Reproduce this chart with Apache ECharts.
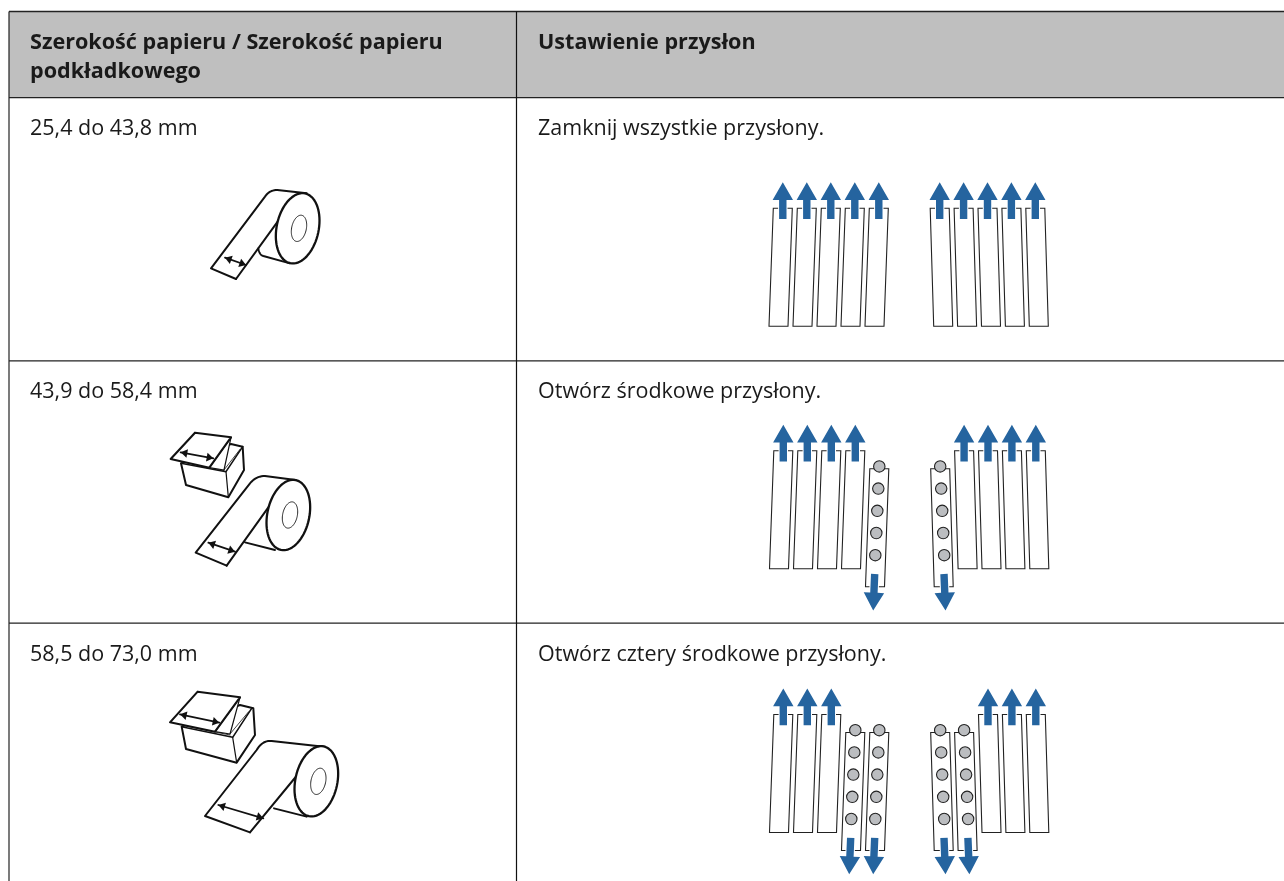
<!DOCTYPE html>
<html><head><meta charset="utf-8">
<style>html,body{margin:0;padding:0;background:#fff}#c{width:1284px;height:881px}</style>
<script src="https://cdn.jsdelivr.net/npm/echarts@6/dist/echarts.min.js"></script>
</head><body><div id="c"></div>
<script>
// ---------- content ----------
const headerLeft = ['Szerokość papieru / Szerokość papieru', 'podkładkowego'];
const headerRight = ['Ustawienie przysłon'];
const paperWidths = ['25,4 do 43,8 mm', '43,9 do 58,4 mm', '58,5 do 73,0 mm'];
const settings = ['Zamknij wszystkie przysłony.', 'Otwórz środkowe przysłony.', 'Otwórz cztery środkowe przysłony.'];
const openPerSide = [0, 1, 2];
const shuttersPerSide = [5, 5, 5];
const holesPerShutter = [5, 5, 5];

// ---------- style / layout ----------
const FONT = '"Open Sans", "Noto Sans", sans-serif';
const INK = '#111', BLUE = '#25649f', HOLE = '#bbbdc0', HEAD = '#bfbfbf';
const X0 = 9, XM = 516.5, W = 1284, H = 881;
const rowLines = [11.5, 97.6, 360.8, 623.2, 881];
const rowDy = [0, 242.4, 506.2];
const BODY_SIZE = 21.5, HEAD_SIZE = 21.6;

// roll + box drawings in 1/3-pixel units relative to an origin
const rollDrawings = [
  {o:[200,180], bl:[33,265], br:[108,297], edge:[195,50], ctrl:[208,30], crest:[232,30], topEnd:[320,40],
   rightEnd:[240,115], under:[[175,205],[178,225],[190,228],[270,250]], c:[293,145], in:[297,145],
   ar:[[75,233],[138,255]]},
  {o:[150,420], bl:[137,398], br:[230,437], edge:[300,190], ctrl:[318,168], crest:[345,168], topEnd:[437,180],
   rightEnd:[355,262], under:[[285,367],[375,390]], c:[415,285], in:[420,285],
   ar:[[175,368],[255,395]],
   box:{body:[[93,130],[108,195],[235,232],[282,150],[278,80],[243,72]], front:[[93,130],[228,155],[278,80]],
        vert:[[228,155],[235,232]], sheet:[[62,117],[135,38],[243,52],[178,143]], fold:[[243,52],[222,150],[178,143]],
        thin:[[[222,150],[270,88]],[[100,125],[222,152]]], ar:[[92,97],[190,115]]}},
  {o:[150,680], bl:[165,408], br:[300,457], edge:[320,210], ctrl:[338,180], crest:[365,183], topEnd:[522,200],
   rightEnd:[442,285], under:[[372,385],[470,410]], c:[499,304], in:[505,304],
   ar:[[205,375],[340,415]],
   box:{body:[[95,140],[108,207],[260,248],[315,165],[310,85],[270,75]], front:[[95,140],[248,172],[305,85]],
        vert:[[248,172],[260,248]], sheet:[[60,127],[143,35],[270,52],[195,155]], fold:[[270,52],[240,162],[195,155]],
        thin:[[[240,162],[296,95]],[[103,137],[240,165]]], ar:[[90,103],[208,128]]}}
];

// ---------- helpers ----------
const line = (api, pts, o={}) => ({type:'polyline', shape:{points:pts.map(p=>api.coord(p))},
  style:{fill:null, stroke:o.stroke||INK, lineWidth:o.lw||1.5, lineJoin:'round', lineCap:o.cap||'round'}});
const poly = (api, pts, o={}) => ({type:'polygon', shape:{points:pts.map(p=>api.coord(p))},
  style:{fill:o.fill||'#fff', stroke:o.stroke===undefined?INK:o.stroke, lineWidth:o.lw===undefined?1.5:o.lw, lineJoin:o.join||'round'}});
function text(api, s, x, y, size, bold){
  const p = api.coord([x,y]);
  return {type:'text', style:{text:s, x:p[0], y:p[1], fill:'#1a1a1a', verticalAlign:'middle', align:'left',
    font:(bold?'bold ':'')+size+'px '+FONT}};
}
function ellipse(c, rx, ry, deg){
  const a=deg*Math.PI/180, pts=[];
  for(let k=0;k<72;k++){const t=k/72*2*Math.PI;
    pts.push([c[0]+ry*Math.sin(t)*Math.sin(a)+rx*Math.cos(t)*Math.cos(a), c[1]-ry*Math.sin(t)*Math.cos(a)+rx*Math.cos(t)*Math.sin(a)]);}
  return pts;
}
function quad(a,b,c){const r=[];for(let k=0;k<=10;k++){const t=k/10;
  r.push([(1-t)*(1-t)*a[0]+2*t*(1-t)*b[0]+t*t*c[0],(1-t)*(1-t)*a[1]+2*t*(1-t)*b[1]+t*t*c[1]]);}return r;}
function dblArrow(api, tr, a, b){
  const dx=b[0]-a[0],dy=b[1]-a[1],L=Math.hypot(dx,dy),ux=dx/L,uy=dy/L,nx=-uy,ny=ux,hl=20,hw=13;
  const head=(p,s)=>poly(api,tr([p,[p[0]+s*ux*hl+nx*hw,p[1]+s*uy*hl+ny*hw],[p[0]+s*ux*hl-nx*hw,p[1]+s*uy*hl-ny*hw]]),{fill:INK,stroke:null,lw:0});
  return [line(api,tr([a,b]),{lw:1.8}),head(a,1),head(b,-1)];
}
function arrowShape(sx,sy,tx,ty,headBase){
  const dx=tx-sx,dy=ty-sy,L=Math.hypot(dx,dy),ux=dx/L,uy=dy/L,nx=-uy,ny=ux,sw=3.7,hw=10.2;
  const bx=tx-ux*headBase,by=ty-uy*headBase;
  return [[sx+nx*sw,sy+ny*sw],[bx+nx*sw,by+ny*sw],[bx+nx*hw,by+ny*hw],[tx,ty],[bx-nx*hw,by-ny*hw],[bx-nx*sw,by-ny*sw],[sx-nx*sw,sy-ny*sw]];
}

// shutter list from the counts
const shutterList = [];
openPerSide.forEach((n,row)=>{
  for(let i=0;i<shuttersPerSide[row];i++){
    shutterList.push([row,0,i,i>=shuttersPerSide[row]-n?1:0]);
    shutterList.push([row,1,i,i<n?1:0]);
  }
});
function shutterGeom(row,side,i,open){
  const dy=rowDy[row]+(open?18:0), dx=row?0.5:0, w=19;
  const tl=(side===0?773.3:930.2)+24*i-(side?0.1*i:0)+dx, bl=(side===0?769:933.7)+24*i-(side?0.1*i:0)+dx;
  return {tl,bl,w,top:208.3+dy,bot:326.3+dy};
}

// ---------- series ----------
const base = {type:'custom', coordinateSystem:'cartesian2d', clip:false, silent:true};
const tableSeries = Object.assign({}, base, {
  name:'table', data:[[0,0]], z:1,
  renderItem:(p,api)=>{
    const ch=[];
    const a=api.coord([X0,rowLines[0]]), b=api.coord([W,rowLines[1]]);
    ch.push({type:'rect',shape:{x:a[0],y:a[1],width:b[0]-a[0],height:b[1]-a[1]},style:{fill:HEAD}});
    rowLines.slice(0,4).forEach(y=>ch.push(line(api,[[X0,y],[W,y]],{lw:1.3,stroke:'#222',cap:'butt'})));
    ch.push(line(api,[[X0,rowLines[0]],[X0,H]],{lw:1.2,stroke:'#222',cap:'butt'}));
    ch.push(line(api,[[XM,rowLines[0]],[XM,H]],{lw:1.2,stroke:'#111',cap:'butt'}));
    return {type:'group',children:ch};
  }
});
const textSeries = Object.assign({}, base, {
  name:'labels', data:paperWidths.map((s,i)=>[i]), z:5,
  renderItem:(p,api)=>{
    const i=p.dataIndex, y=[129,392,655][i], ch=[text(api,paperWidths[i],30,y,BODY_SIZE),text(api,settings[i],538,y,BODY_SIZE)];
    if(i===0){
      headerLeft.forEach((s,k)=>ch.push(text(api,s,30,43+k*29,HEAD_SIZE,true)));
      ch.push(text(api,headerRight[0],538,43,HEAD_SIZE,true));
    }
    return {type:'group',children:ch};
  }
});
const shutterSeries = Object.assign({}, base, {
  name:'shutters', data:shutterList, z:3,
  renderItem:(p,api)=>{
    const [row,side,i,open]=shutterList[p.dataIndex];
    const g=shutterGeom(row,side,i,open), ch=[];
    ch.push(poly(api,[[g.tl,g.top],[g.tl+g.w,g.top],[g.bl+g.w,g.bot],[g.bl,g.bot]],{lw:1.1,stroke:'#222',fill:'#fff',join:'miter'}));
    if(open){
      const s=side?1:-1, cT=g.tl+g.w/2;
      for(let k=0;k<holesPerShutter[row];k++){
        const c=api.coord([cT+s*k*1,g.top-2.3+k*22.2]);
        ch.push({type:'circle',shape:{cx:c[0],cy:c[1],r:5.7},style:{fill:HOLE,stroke:'#222',lineWidth:1.1}});
      }
      const cB=g.bl+g.w/2+(side?0.3:-0.3);
      ch.push(poly(api,arrowShape(cB,g.bot-12.7,cB+s*1.5,g.bot+23.7,17.7),{fill:BLUE,stroke:'#fff',lw:2,join:'miter'}));
      ch.push(poly(api,arrowShape(cB,g.bot-12.7,cB+s*1.5,g.bot+23.7,17.7),{fill:BLUE,stroke:null,lw:0}));
    } else {
      const c=g.tl+g.w/2;
      ch.push(poly(api,arrowShape(c,g.top+10.7,c,g.top-26,17.7),{fill:BLUE,stroke:'#fff',lw:2,join:'miter'}));
      ch.push(poly(api,arrowShape(c,g.top+10.7,c,g.top-26,17.7),{fill:BLUE,stroke:null,lw:0}));
    }
    return {type:'group',children:ch};
  }
});
const rollSeries = Object.assign({}, base, {
  name:'media', data:rollDrawings.map((d,i)=>[i]), z:3,
  renderItem:(p,api)=>{
    const d=rollDrawings[p.dataIndex], tr=pts=>pts.map(q=>[d.o[0]+q[0]/3,d.o[1]+q[1]/3]), ch=[];
    if(d.box){
      const b=d.box;
      ch.push(poly(api,tr(b.body),{lw:2}));
      ch.push(line(api,tr(b.front),{lw:1.6}));
      ch.push(line(api,tr(b.vert),{lw:1.2}));
      b.thin.forEach(t=>ch.push(line(api,tr(t),{lw:0.8})));
      ch.push(poly(api,tr(b.fold),{lw:1.2}));
      ch.push(poly(api,tr(b.sheet),{lw:2.1}));
      dblArrow(api,tr,b.ar[0],b.ar[1]).forEach(e=>ch.push(e));
    }
    const u=d.under;
    const under=u.length===4?[...quad(u[0],u[1],u[2]),u[3]]:u;
    ch.push(line(api,tr(under),{lw:1.9}));
    ch.push(line(api,tr([d.br,d.bl,d.edge,...quad(d.edge,d.ctrl,d.crest),d.topEnd]),{lw:2}));
    ch.push(line(api,tr([d.br,d.rightEnd]),{lw:2}));
    ch.push(poly(api,tr(ellipse(d.c,63,107,12)),{lw:2.3}));
    ch.push(poly(api,tr(ellipse(d.in,22,40,12)),{lw:0.9}));
    dblArrow(api,tr,d.ar[0],d.ar[1]).forEach(e=>ch.push(e));
    return {type:'group',children:ch};
  }
});

const chart = echarts.init(document.getElementById('c'));
chart.setOption({
  animation:false, backgroundColor:'#fff', tooltip:{show:false},
  grid:{left:0,right:0,top:0,bottom:0},
  xAxis:{type:'value',min:0,max:W,show:false},
  yAxis:{type:'value',min:0,max:H,inverse:true,show:false},
  series:[tableSeries,rollSeries,shutterSeries,textSeries]
});
</script></body></html>
